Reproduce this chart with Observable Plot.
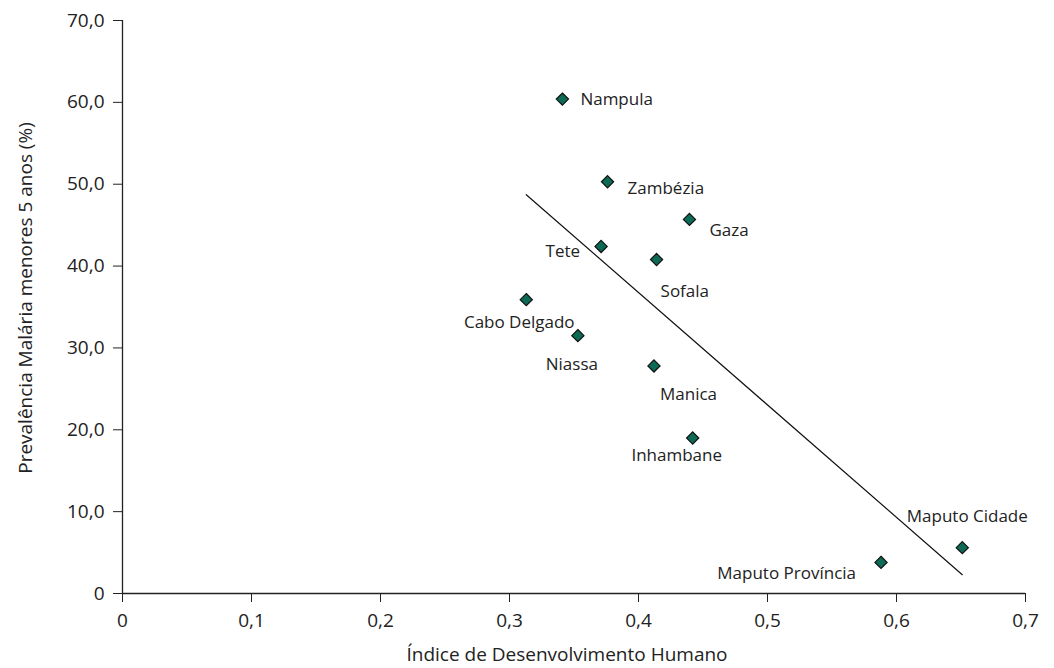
<!DOCTYPE html>
<html>
<head>
<meta charset="utf-8">
<script src="https://cdn.jsdelivr.net/npm/d3@7"></script>
<script src="https://cdn.jsdelivr.net/npm/@observablehq/plot@0.6"></script>
<style>
  html, body { margin: 0; padding: 0; background: #fff; }
  svg { display: block; }
</style>
</head>
<body>
<div id="chart"></div>
<script>
// Data
const provinces = ["Nampula", "Zambézia", "Gaza", "Tete", "Sofala", "Cabo Delgado", "Niassa", "Manica", "Inhambane", "Maputo Província", "Maputo Cidade"];
const idh = [0.341, 0.376, 0.4395, 0.371, 0.414, 0.313, 0.353, 0.412, 0.442, 0.588, 0.651];
const prevalence = [60.4, 50.3, 45.7, 42.4, 40.8, 35.9, 31.5, 27.8, 19.0, 3.8, 5.6];
const xTicks = [0, 0.1, 0.2, 0.3, 0.4, 0.5, 0.6, 0.7];
const yTicks = [0, 10, 20, 30, 40, 50, 60, 70];
const xLabel = "Índice de Desenvolvimento Humano";
const yLabel = "Prevalência Malária menores 5 anos (%)";

// label placement (styling)
const labelPlacement = [
  ["start", 18, 0], ["start", 20, 7], ["start", 20, 11], ["end", -21, 5],
  ["start", 4, 32], ["middle", -7, 23], ["middle", -6, 29], ["start", 6, 29],
  ["middle", -16, 18], ["end", -25, 11], ["middle", 5, -31]
];

const data = provinces.map((p, i) => ({name: p, x: idh[i], y: prevalence[i]}));
const fmt = d => d === 0 ? "0" : d.toFixed(1).replace(".", ",");
const font = "'Open Sans', Lato, sans-serif";
const ink = "#222";

const labelMarks = data.map((d, i) => Plot.text([d], {
  x: "x", y: "y", text: "name",
  textAnchor: labelPlacement[i][0], dx: labelPlacement[i][1], dy: labelPlacement[i][2],
  fontSize: 17, fill: ink
}));

const chart = Plot.plot({
  width: 1054,
  height: 668,
  marginLeft: 122,
  marginRight: 29,
  marginTop: 20,
  marginBottom: 75,
  style: {fontFamily: font, fontSize: "17px", color: ink, background: "#fff"},
  x: {domain: [0, 0.7]},
  y: {domain: [0, 70]},
  marks: [
    Plot.axisX({ticks: xTicks, tickFormat: fmt, tickSize: 9, tickPadding: 11, fontSize: 19,
      label: null, style: {letterSpacing: "0.8px"}}),
    Plot.axisY({ticks: yTicks, tickFormat: fmt, tickSize: 9, tickPadding: 9, fontSize: 19,
      label: null, style: {letterSpacing: "0.8px"}}),
    Plot.text([xLabel], {frameAnchor: "bottom", dx: -7, dy: 61, lineAnchor: "middle",
      textAnchor: "middle", fontSize: 19, fill: ink}),
    Plot.text([yLabel], {frameAnchor: "left", rotate: -90, dx: -97, dy: -9, lineAnchor: "middle",
      textAnchor: "middle", fontSize: 19, fill: ink}),
    Plot.ruleY([0], {stroke: ink, strokeWidth: 1.3}),
    Plot.ruleX([0], {y1: 0, y2: 70, stroke: ink, strokeWidth: 1.3}),
    Plot.linearRegressionY(data, {x: "x", y: "y", ci: 0, stroke: "#111", strokeWidth: 1.2}),
    Plot.dot(data, {x: "x", y: "y", symbol: "diamond2", r: 5.5, fill: "#0d6b55", stroke: "#111", strokeWidth: 1.2}),
    ...labelMarks
  ]
});
document.getElementById("chart").appendChild(chart);
</script>
</body>
</html>
